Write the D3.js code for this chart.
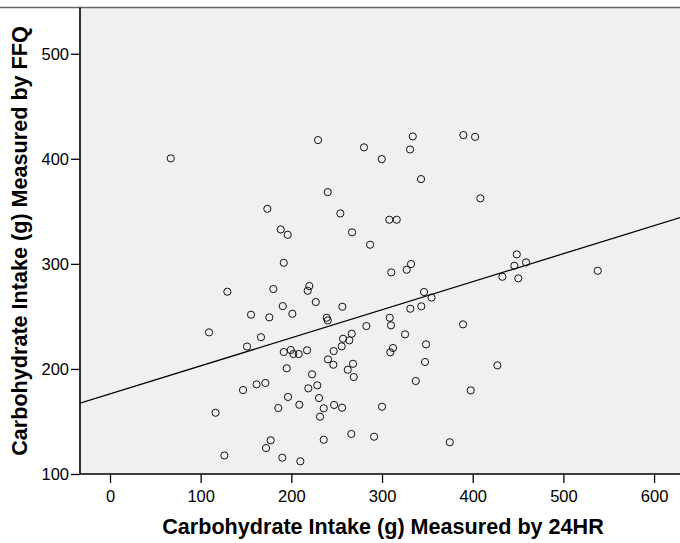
<!DOCTYPE html>
<html>
<head>
<meta charset="utf-8">
<script src="https://cdn.jsdelivr.net/npm/d3@7"></script>
<style>
  html, body { margin: 0; padding: 0; background: #fff; }
  svg { display: block; }
</style>
</head>
<body>
<svg id="chart" width="680" height="543"></svg>
<script>
// Carbohydrate intake (g) measured by 24HR (x) and by FFQ (y)
const intake24HR = [
  67, 129.4, 155.5, 109.2, 151.1, 166.5, 161.6, 146.7, 116.4, 126.1,
  229.4, 280.1, 333.9, 330.9, 299.7, 343.0, 240.1, 173.5, 254.0, 188.3,
  196.0, 266.9, 308.0, 316.2, 286.8, 191.6, 310.2, 332.0, 327.2, 180.1,
  219.8, 218.0, 346.3, 354.6, 226.9, 190.5, 256.2, 201.1, 175.7, 239.0,
  240.1, 331.2, 343.3, 308.5, 309.9, 282.7, 325.4, 266.6, 257.0, 263.9,
  255.5, 348.5, 191.6, 199.3, 202.2, 208.1, 217.3, 246.7, 312.1, 309.1,
  240.4, 246.3, 268.0, 262.2, 268.8, 347.4, 194.9, 222.8, 171.3, 337.2,
  228.6, 218.7, 196.3, 230.5, 185.6, 208.8, 235.7, 247.1, 255.9, 231.6,
  300.0, 266.1, 235.7, 291.2, 177.2, 172.1, 190.0, 209.9, 389.7, 402.6,
  408.4, 448.6, 445.9, 458.8, 432.7, 450.3, 537.9, 389.3, 427.2, 397.8,
  374.7
];
const intakeFFQ = [
  400.4, 273.5, 251.6, 234.8, 221.3, 230.2, 185.3, 179.9, 158.3, 117.6,
  417.8, 410.9, 421.3, 408.9, 399.7, 380.7, 368.3, 352.4, 348.0, 332.8,
  327.7, 330.0, 342.0, 342.0, 318.2, 301.0, 291.9, 299.8, 294.4, 276.0,
  278.9, 274.4, 273.2, 267.9, 263.7, 259.8, 259.2, 252.5, 249.1, 248.7,
  246.2, 257.3, 259.6, 248.7, 241.5, 240.8, 232.9, 233.5, 228.7, 227.2,
  221.5, 223.4, 216.1, 218.0, 214.2, 214.2, 217.7, 217.0, 219.9, 215.8,
  209.1, 204.0, 204.9, 199.2, 192.3, 206.6, 200.6, 194.9, 186.6, 188.5,
  184.4, 181.5, 173.3, 172.3, 162.8, 165.9, 162.5, 165.7, 163.1, 154.5,
  164.0, 138.1, 132.6, 135.5, 132.1, 124.7, 115.5, 112.1, 422.6, 420.9,
  362.3, 309.0, 298.2, 301.4, 287.7, 286.2, 293.4, 242.4, 203.4, 179.6,
  130.2
];
const xTicks = [0, 100, 200, 300, 400, 500, 600];
const yTicks = [100, 200, 300, 400, 500];
const fitIntercept = 176.2;
const fitSlope = 0.267;
const xTitle = "Carbohydrate Intake (g) Measured by 24HR";
const yTitle = "Carbohydrate Intake (g) Measured by FFQ";

(function () {
const svg = d3.select("#chart");
const pLeft = 80, pRight = 682, pTop = 7.5, pBottom = 474;
const font = "'Liberation Sans', Arial, sans-serif";

const x = d3.scaleLinear().domain([-33.1, 630.8]).range([pLeft, pRight]);
const y = d3.scaleLinear().domain([100, 544]).range([pBottom, pTop]);

svg.append("defs").append("clipPath").attr("id", "plotclip")
  .append("rect").attr("x", pLeft).attr("y", pTop)
  .attr("width", pRight - pLeft).attr("height", pBottom - pTop);

// plot background
svg.append("rect")
  .attr("x", pLeft).attr("y", pTop)
  .attr("width", pRight - pLeft).attr("height", pBottom - pTop)
  .attr("fill", "#f0f0f0");

// top frame line
svg.append("line")
  .attr("x1", 0).attr("x2", 680).attr("y1", pTop).attr("y2", pTop)
  .attr("stroke", "#666").attr("stroke-width", 1.5);

const plot = svg.append("g").attr("clip-path", "url(#plotclip)");

// fit line
const [d0, d1] = x.domain();
plot.append("line")
  .attr("x1", x(d0)).attr("y1", y(fitIntercept + fitSlope * d0))
  .attr("x2", x(d1)).attr("y2", y(fitIntercept + fitSlope * d1))
  .attr("stroke", "#000").attr("stroke-width", 1.3);

// points
plot.selectAll("circle.pt")
  .data(d3.range(intake24HR.length))
  .join("circle")
  .attr("class", "pt")
  .attr("cx", i => x(intake24HR[i]))
  .attr("cy", i => y(intakeFFQ[i]))
  .attr("r", 3.6)
  .attr("fill", "none")
  .attr("stroke", "#111")
  .attr("stroke-width", 1);

// axes
const xAxis = svg.append("g")
  .attr("transform", `translate(0,${pBottom})`)
  .call(d3.axisBottom(x).tickValues(xTicks).tickSize(9).tickPadding(7).tickSizeOuter(0));
const yAxis = svg.append("g")
  .attr("transform", `translate(${pLeft},0)`)
  .call(d3.axisLeft(y).tickValues(yTicks).tickSize(9).tickPadding(2).tickSizeOuter(0));

[xAxis, yAxis].forEach(g => {
  g.select(".domain").attr("stroke", "#000").attr("stroke-width", 1.6);
  g.selectAll(".tick line").attr("stroke", "#000").attr("stroke-width", 1.3);
  g.selectAll(".tick text")
    .attr("fill", "#000")
    .style("font-family", font)
    .style("font-size", "16.5px");
});
yAxis.select(".domain").attr("d", `M0,${pTop}V${pBottom}`);
xAxis.select(".domain").attr("d", `M${pLeft},0H${pRight}`);

// titles
svg.append("text")
  .attr("x", 383).attr("y", 534.3)
  .attr("text-anchor", "middle")
  .style("font-family", font).style("font-weight", "bold").style("font-size", "21.6px")
  .text(xTitle);

svg.append("text")
  .attr("transform", `translate(27.4,241) rotate(-90)`)
  .attr("text-anchor", "middle")
  .style("font-family", font).style("font-weight", "bold").style("font-size", "21.6px")
  .text(yTitle);
})();
</script>
</body>
</html>
